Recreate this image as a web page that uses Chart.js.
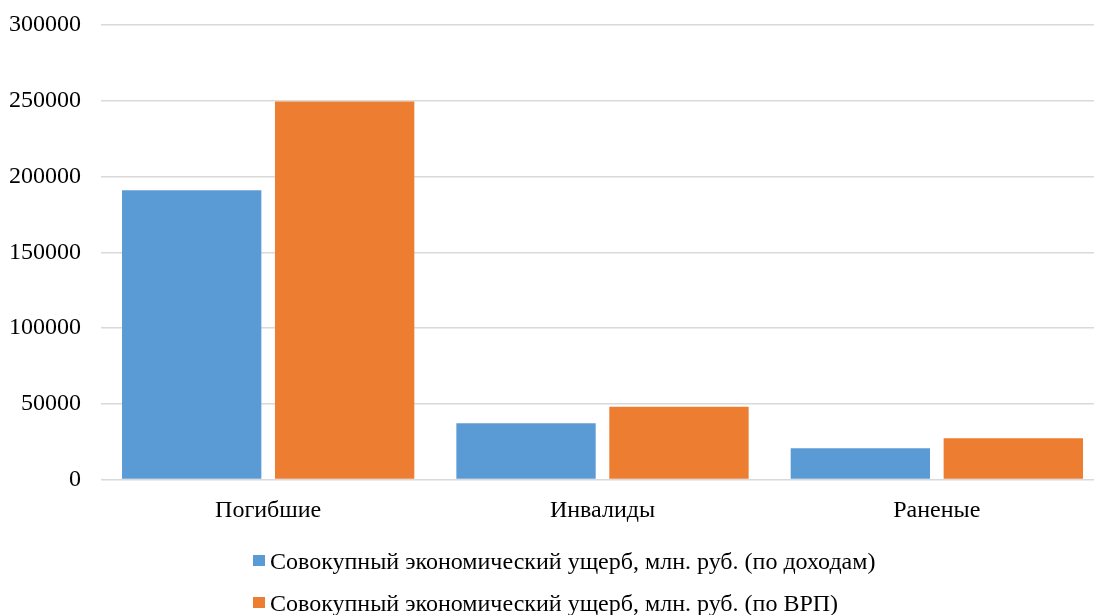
<!DOCTYPE html>
<html lang="ru">
<head>
<meta charset="utf-8">
<script src="https://cdn.jsdelivr.net/npm/chart.js@4"></script>
<style>
  html, body { margin: 0; padding: 0; background: #fff; overflow: hidden; }
  #wrap { position: relative; width: 1104px; height: 615px; }
</style>
</head>
<body>
<div id="wrap"><canvas id="chart" width="1104" height="615"></canvas></div>
<script>
// Categories and series values
const categories = ['Погибшие', 'Инвалиды', 'Раненые'];
const incomeLoss = [191000, 37100, 20600];
const grpLoss = [249500, 48000, 27200];
const seriesNames = [
  'Совокупный экономический ущерб, млн. руб. (по доходам)',
  'Совокупный экономический ущерб, млн. руб. (по ВРП)'
];
const yTicks = [0, 50000, 100000, 150000, 200000, 250000, 300000];

const FONT = "'Liberation Serif', 'Times New Roman', serif";
const BLUE = '#5B9BD5';
const ORANGE = '#ED7D31';

// Legend drawn below the plot, rows left-aligned to a common start
const stackedLegend = {
  id: 'stackedLegend',
  afterDraw(chart) {
    const ctx = chart.ctx;
    const ds = chart.data.datasets;
    ctx.save();
    ctx.font = '24px ' + FONT;
    ctx.textBaseline = 'alphabetic';
    ctx.textAlign = 'left';
    const x0 = 253;
    const baselines = [569, 611];
    ds.forEach((d, i) => {
      const b = baselines[i];
      ctx.fillStyle = d.backgroundColor;
      ctx.fillRect(x0, b - 14, 12, 11);
      ctx.fillStyle = '#000';
      ctx.fillText(d.label, x0 + 17, b);
    });
    ctx.restore();
  }
};

new Chart(document.getElementById('chart'), {
  type: 'bar',
  data: {
    labels: categories,
    datasets: [
      { label: seriesNames[0], data: incomeLoss, backgroundColor: BLUE },
      { label: seriesNames[1], data: grpLoss, backgroundColor: ORANGE }
    ]
  },
  options: {
    responsive: false,
    animation: false,
    devicePixelRatio: 1,
    layout: { padding: { top: 25, right: 0, bottom: 0, left: 0 } },
    categoryPercentage: 0.915,
    barPercentage: 0.911,
    plugins: {
      legend: { display: false },
      tooltip: { enabled: false }
    },
    scales: {
      x: {
        grid: { display: false, drawTicks: false },
        border: { display: false },
        ticks: { color: '#000', font: { family: FONT, size: 24 }, padding: 17 },
        afterFit(scale) { scale.height = 135.5; }
      },
      y: {
        min: 0,
        max: 300000,
        afterBuildTicks(scale) { scale.ticks = yTicks.map(v => ({ value: v })); },
        grid: { color: '#D9D9D9', lineWidth: 1.5, drawTicks: false },
        border: { display: false },
        ticks: {
          color: '#000',
          font: { family: FONT, size: 24 },
          padding: 20,
          callback: (v) => String(v)
        },
        afterFit(scale) {
          scale.width = 101;
          scale.paddingTop = 0;
          scale.paddingBottom = 0;
        }
      }
    }
  },
  plugins: [stackedLegend]
});
</script>
</body>
</html>
